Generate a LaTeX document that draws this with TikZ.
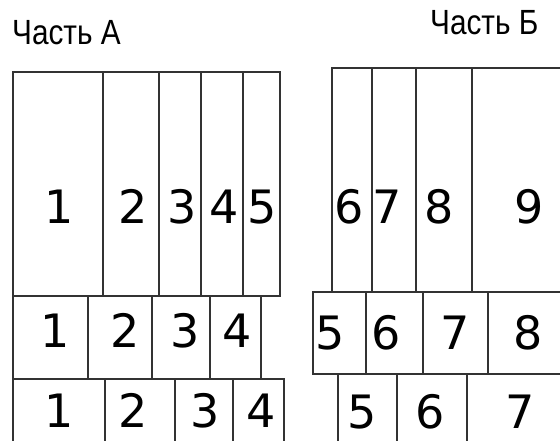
\documentclass[tikz,border=0pt]{standalone}
\usepackage{fontspec}
\newfontfamily\partfont[FakeStretch=0.85]{Liberation Sans}
\newfontfamily\numfont{DejaVu Sans}

\begin{document}
\begin{tikzpicture}[
  x=1pt, y=-1pt,
  cell/.style={draw=black!80, line width=1.3pt},
  num/.style={font=\numfont\fontsize{46}{46}\selectfont, inner sep=0pt, anchor=base},
  part/.style={font=\partfont\fontsize{35}{35}\selectfont, inner sep=0pt, anchor=base west}
]
\useasboundingbox (0,0) rectangle (560,441);
\clip (0,0) rectangle (560,441);

\node[part] (partA) at (12,45) {Часть А};
\node[part] (partB) at (430,35) {Часть Б};

% part A, three rows (the last one runs off the page)
\draw[cell] (13,72) rectangle (280,296);
\foreach \x in {103,159,201,243} \draw[cell] (\x,72) -- (\x,296);
\draw[cell] (13,296) rectangle (261,379);
\foreach \x in {88,152,210} \draw[cell] (\x,296) -- (\x,379);
\draw[cell] (13,379) rectangle (284,450);
\foreach \x in {105,175,233} \draw[cell] (\x,379) -- (\x,450);

% part B, open on the right
\draw[cell] (332,68) rectangle (570,292);
\foreach \x in {372,416,472} \draw[cell] (\x,68) -- (\x,292);
\draw[cell] (313,292) rectangle (570,374);
\foreach \x in {366,423,488} \draw[cell] (\x,292) -- (\x,374);
\draw[cell] (338,374) rectangle (570,450);
\foreach \x in {397,467} \draw[cell] (\x,374) -- (\x,450);

% numbers, placed on their baselines
\foreach \n/\x in {1/59,2/133,3/182,4/224,5/262} \node[num] (a1-\n) at (\x,223) {\n};
\foreach \n/\x in {6/349,7/387,8/439,9/529} \node[num] (b1-\n) at (\x,223) {\n};
\foreach \n/\x in {1/55,2/125,3/185,4/237} \node[num] (a2-\n) at (\x,347) {\n};
\foreach \n/\x in {5/330,6/386,7/455,8/528} \node[num] (b2-\n) at (\x,349) {\n};
\foreach \n/\x in {1/59,2/133,3/205,4/261} \node[num] (a3-\n) at (\x,427) {\n};
\foreach \n/\x in {5/362,6/430,7/520} \node[num] (b3-\n) at (\x,428) {\n};
\end{tikzpicture}
\end{document}
